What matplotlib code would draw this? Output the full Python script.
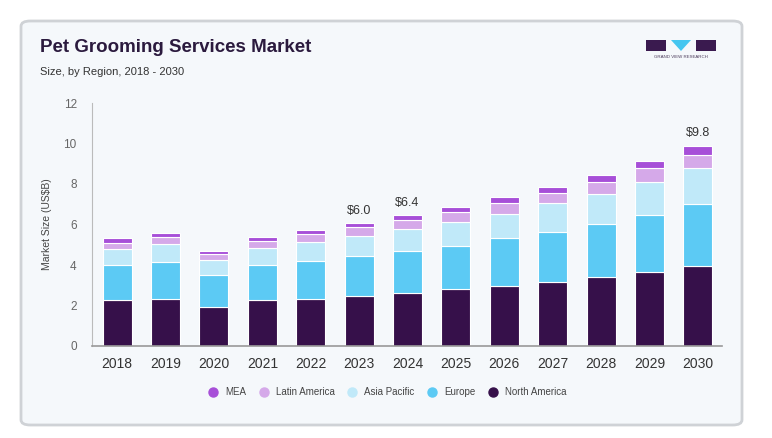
import numpy as np
import matplotlib.pyplot as plt
from matplotlib.patches import FancyBboxPatch, Rectangle, Polygon

plt.rcParams['font.family'] = ['Liberation Sans', 'DejaVu Sans']

years = ['2018', '2019', '2020', '2021', '2022', '2023', '2024',
         '2025', '2026', '2027', '2028', '2029', '2030']
north_america = [2.25, 2.33, 1.95, 2.25, 2.33, 2.48, 2.63, 2.81, 2.98, 3.16, 3.41, 3.65, 3.95]
europe = [1.75, 1.84, 1.54, 1.77, 1.87, 1.97, 2.05, 2.15, 2.33, 2.49, 2.61, 2.83, 3.04]
asia_pacific = [0.81, 0.86, 0.74, 0.82, 0.93, 0.97, 1.09, 1.17, 1.22, 1.41, 1.50, 1.64, 1.81]
latin_america = [0.30, 0.33, 0.33, 0.35, 0.39, 0.45, 0.45, 0.48, 0.53, 0.51, 0.58, 0.66, 0.65]
mea = [0.21, 0.21, 0.15, 0.20, 0.20, 0.20, 0.23, 0.27, 0.28, 0.30, 0.36, 0.36, 0.45]
labels = {'2023': '$6.0', '2024': '$6.4', '2030': '$9.8'}

series = [('North America', north_america, '#36104a'),
          ('Europe', europe, '#5ccaf4'),
          ('Asia Pacific', asia_pacific, '#c0e9f9'),
          ('Latin America', latin_america, '#d5a9e9'),
          ('MEA', mea, '#a74fd8')]

fig = plt.figure(figsize=(7.72, 4.38), dpi=100)
fig.patch.set_facecolor('white')

# card background
card = FancyBboxPatch((21 / 772, 1 - 425 / 438), 721 / 772, 404 / 438,
                      boxstyle='round,pad=0,rounding_size=0.012',
                      transform=fig.transFigure, facecolor='#f5f8fb',
                      edgecolor='#cfd2d6', linewidth=2, zorder=-5)
fig.patches.append(card)

ax = fig.add_axes([92 / 772, 1 - 346 / 438, 630 / 772, 243 / 438])
ax.set_facecolor('none')
ax.set_zorder(2)

x = np.arange(len(years))
bottom = np.zeros(len(years))
handles = []
for name, vals, col in series:
    b = ax.bar(x, vals, 0.6, bottom=bottom, color=col, edgecolor='white',
               linewidth=0.8, label=name, zorder=2)
    handles.append(b)
    bottom += np.array(vals)

for i, yr in enumerate(years):
    if yr in labels:
        ax.text(i, bottom[i] + 0.3, labels[yr], ha='center', va='bottom',
                fontsize=9, color='#333333')

ax.set_xlim(-0.52, len(years) - 0.5)
ax.set_ylim(0, 12)
ax.set_yticks(range(0, 13, 2))
ax.set_xticks(x)
ax.set_xticklabels(years)
ax.tick_params(axis='x', length=0, labelsize=10, colors='#333333', pad=8)
ax.tick_params(axis='y', length=0, labelsize=8.5, colors='#666666', pad=11)
for s in ['top', 'right']:
    ax.spines[s].set_visible(False)
ax.spines['left'].set_color('#bbbbbb')
ax.spines['bottom'].set_color('#999999')
ax.spines['bottom'].set_linewidth(1.2)
ax.set_ylabel('Market Size (US$B)', fontsize=7.5, color='#444444', labelpad=8)

leg_order = handles[::-1]
leg = fig.legend([plt.Line2D([], [], marker='o', linestyle='', markersize=6.5,
                             color=h.patches[0].get_facecolor()) for h in leg_order],
                 [h.get_label() for h in leg_order],
                 loc='center', bbox_to_anchor=(385 / 772, 1 - 392 / 438), ncol=5,
                 frameon=False, fontsize=7, handletextpad=0.2, columnspacing=0.85,
                 labelcolor='#444444')

fig.text(40 / 772, 1 - 47 / 438, 'Pet Grooming Services Market', fontsize=13.5,
         fontweight='bold', color='#2b1a3e', va='center')
fig.text(40 / 772, 1 - 72 / 438, 'Size, by Region, 2018 - 2030', fontsize=8,
         color='#333333', va='center')

# logo
lt = fig.transFigure
def px(xp, yp):
    return (xp / 772, 1 - yp / 438)
fig.patches.append(Rectangle(px(646, 51), 20 / 772, 11 / 438, transform=lt,
                             facecolor='#3a1a4f', edgecolor='none'))
fig.patches.append(Polygon([px(671, 40), px(691, 40), px(681, 51)], closed=True,
                           transform=lt, facecolor='#45c6f0', edgecolor='none'))
fig.patches.append(Rectangle(px(696, 51), 20 / 772, 11 / 438, transform=lt,
                             facecolor='#3a1a4f', edgecolor='none'))
fig.text(681 / 772, 1 - 57 / 438, 'GRAND VIEW RESEARCH', fontsize=3.2,
         color='#4a3a5a', ha='center', va='center')

fig.savefig('out.png', dpi=100)
